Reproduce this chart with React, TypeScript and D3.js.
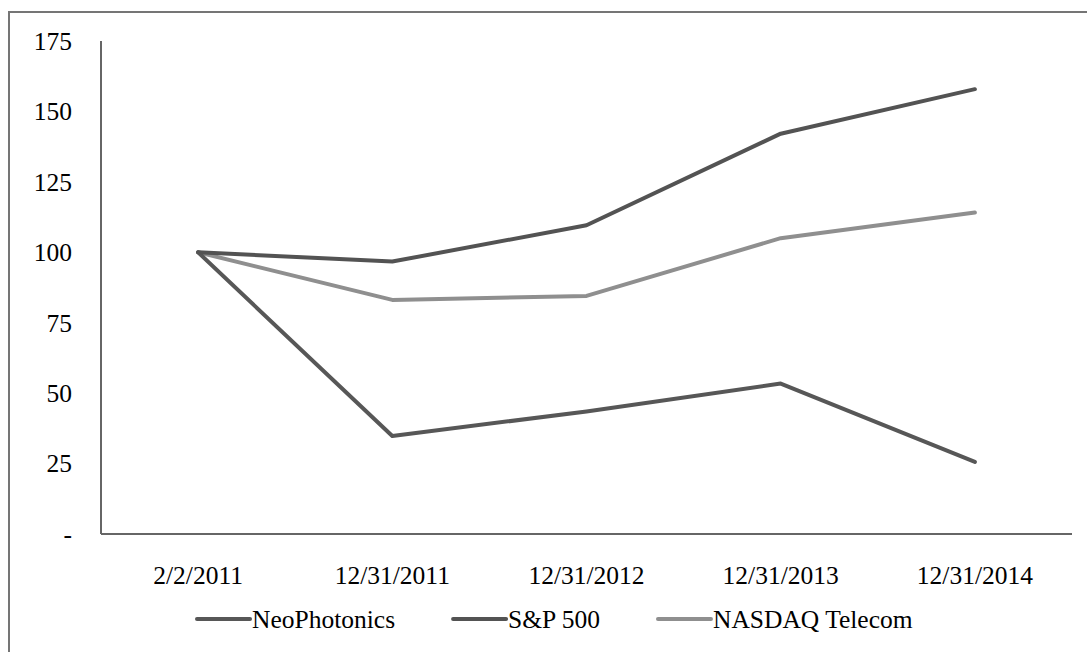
import React, { useEffect, useRef } from "react";
import * as d3 from "d3";

const categories = ["2/2/2011", "12/31/2011", "12/31/2012", "12/31/2013", "12/31/2014"];
const neoPhotonics = [100, 34.8, 43.5, 53.4, 25.6];
const sp500 = [100, 96.7, 109.6, 142.1, 157.9];
const nasdaqTelecom = [100, 83.1, 84.5, 105.0, 114.1];
const yTicks = [0, 25, 50, 75, 100, 125, 150, 175];

const seriesNames = ["NeoPhotonics", "S&P 500", "NASDAQ Telecom"];
const seriesColors = ["#575757", "#535353", "#8f8f8f"];

export default function App() {
  const ref = useRef<SVGSVGElement>(null);

  useEffect(() => {
    const svg = d3.select(ref.current);
    svg.selectAll("*").remove();
    const W = 1087, H = 652;
    const left = 101, right = 1072, top = 41, bottom = 534;
    const font = "Liberation Serif, Times New Roman, serif";
    const fs = 25.5;

    svg.append("rect").attr("x", 9).attr("y", 12).attr("width", W + 20).attr("height", H + 20)
      .attr("fill", "#fff").attr("stroke", "#757575").attr("stroke-width", 2);

    const x = d3.scaleBand<string>().domain(categories).range([left, right]);
    const y = d3.scaleLinear().domain([0, 175]).range([bottom, top]);

    svg.append("line").attr("x1", left).attr("x2", left).attr("y1", top).attr("y2", bottom)
      .attr("stroke", "#666").attr("stroke-width", 2);
    svg.append("line").attr("x1", left).attr("x2", right).attr("y1", bottom).attr("y2", bottom)
      .attr("stroke", "#666").attr("stroke-width", 2);

    svg.append("g").selectAll("text").data(yTicks).join("text")
      .attr("x", 72).attr("y", (d) => y(d)).attr("dy", "0.35em")
      .attr("text-anchor", "end").style("font-family", font).style("font-size", fs + "px").attr("fill", "#000")
      .text((d) => (d === 0 ? "-" : String(d)));

    svg.append("g").selectAll("text").data(categories).join("text")
      .attr("x", (d) => (x(d) as number) + x.bandwidth() / 2).attr("y", 584)
      .attr("text-anchor", "middle").style("font-family", font).style("font-size", fs + "px").attr("fill", "#000")
      .text((d) => d);

    const allSeries = [neoPhotonics, sp500, nasdaqTelecom];
    const line = d3.line<number>()
      .x((_, i) => (x(categories[i]) as number) + x.bandwidth() / 2)
      .y((d) => y(d));

    [2, 0, 1].forEach((si) => {
      svg.append("path").attr("d", line(allSeries[si]) as string)
        .attr("fill", "none").attr("stroke", seriesColors[si]).attr("stroke-width", 4)
        .attr("stroke-linecap", "round").attr("stroke-linejoin", "round");
    });

    const lg = svg.append("g");
    let cx = 197;
    const ly = 619;
    seriesNames.forEach((name, i) => {
      lg.append("line").attr("x1", cx).attr("x2", cx + 53).attr("y1", ly).attr("y2", ly)
        .attr("stroke", seriesColors[i]).attr("stroke-width", 4).attr("stroke-linecap", "round");
      const t = lg.append("text").attr("x", cx + 55).attr("y", ly).attr("dy", "0.35em")
        .style("font-family", font).style("font-size", fs + "px").attr("fill", "#000").text(name);
      const w = (t.node() as SVGTextElement).getComputedTextLength();
      cx = cx + 55 + w + 58;
    });
  }, []);

  return (
    <svg ref={ref} width={1087} height={652}
      style={{ position: "absolute", left: 0, top: 0, background: "#fff" }} />
  );
}
